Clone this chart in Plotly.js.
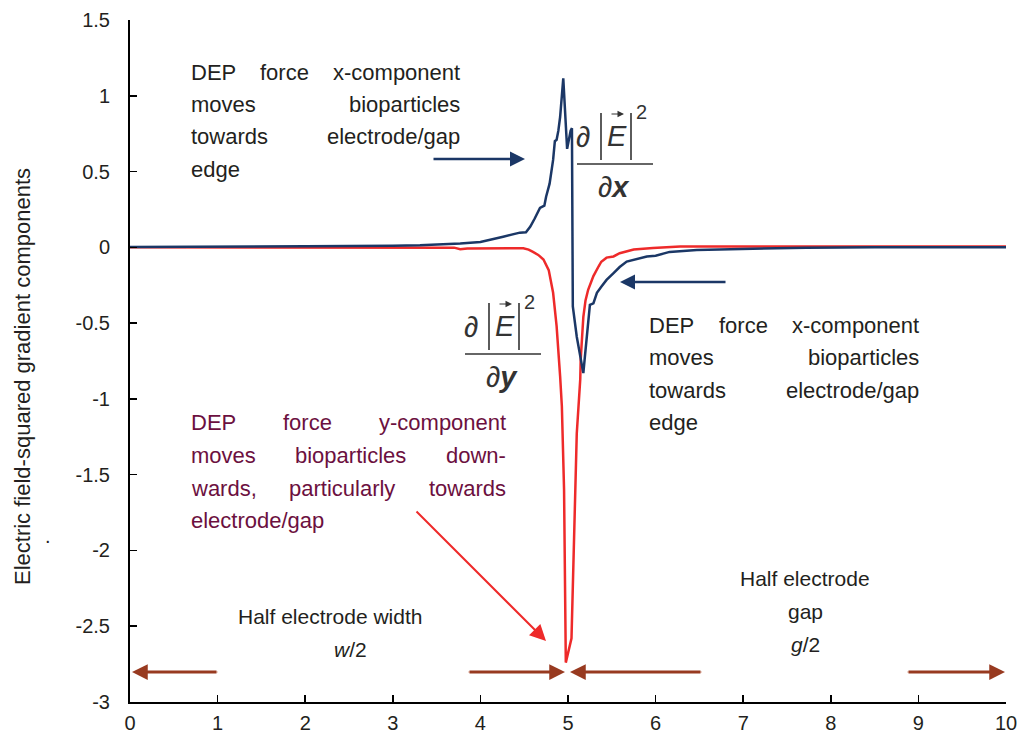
<!DOCTYPE html>
<html><head><meta charset="utf-8">
<script src="https://cdn.plot.ly/plotly-3.0.1.min.js"></script>
<style>body{margin:0;background:#fff}#chart{width:1019px;height:733px}</style>
</head><body><div id="chart"></div>
<script>
// ---- data ----
const xGradX = [0,0.74,0.76,2.0,3.0,3.31,3.77,4.0,4.26,4.35,4.45,4.52,4.57,4.62,4.68,4.73,4.75,4.79,4.83,4.85,4.87,4.89,4.91,4.946,4.97,4.99,5.01,5.03,5.045,5.05,5.055,5.10,5.145,5.175,5.19,5.23,5.25,5.29,5.33,5.38,5.44,5.52,5.59,5.67,5.82,5.90,6.0,6.16,6.47,6.85,7.3,7.72,8.5,10];
const yGradX = [0.003,0.003,0.006,0.007,0.01,0.013,0.025,0.035,0.07,0.085,0.097,0.10,0.137,0.19,0.26,0.275,0.334,0.42,0.577,0.70,0.71,0.77,0.86,1.115,0.80,0.65,0.71,0.77,0.786,0.14,-0.39,-0.59,-0.73,-0.83,-0.74,-0.46,-0.38,-0.37,-0.30,-0.26,-0.215,-0.17,-0.13,-0.094,-0.075,-0.06,-0.055,-0.03,-0.018,-0.013,-0.008,-0.002,0,0];
const xGradY = [0,3.7,3.77,3.85,4.49,4.55,4.6,4.66,4.72,4.78,4.83,4.87,4.91,4.93,4.955,4.967,4.972,4.975,5.04,5.10,5.14,5.145,5.175,5.2,5.23,5.29,5.35,5.38,5.44,5.52,5.59,5.75,5.97,6.28,10];
const yGradY = [0,-0.002,-0.013,-0.007,-0.006,-0.015,-0.03,-0.05,-0.08,-0.15,-0.3,-0.52,-0.85,-1.05,-1.6,-2.3,-2.6,-2.74,-2.58,-1.23,-0.87,-0.74,-0.46,-0.35,-0.28,-0.19,-0.125,-0.095,-0.068,-0.06,-0.039,-0.015,-0.004,0.005,0.005];
const xTicks = [0,1,2,3,4,5,6,7,8,9,10];
const yTicks = [-3,-2.5,-2,-1.5,-1,-0.5,0,0.5,1,1.5];
const yTickLabels = ['-3','-2.5','-2','-1.5','-1','-0.5','0','0.5','1','1.5'];
const yTitle = 'Electric field-squared gradient components';
const noteTopLeft = [['DEP','force','x-component'],['moves','bioparticles'],['towards','electrode/gap'],['edge']];
const noteRight = [['DEP','force','x-component'],['moves','bioparticles'],['towards','electrode/gap'],['edge']];
const noteY = [['DEP','force','y-component'],['moves','bioparticles','down-'],['wards,','particularly','towards'],['electrode/gap']];
const halfWidthLabel = ['Half electrode width','<i>w</i>/2'];
const halfGapLabel = ['Half electrode','gap','<i>g</i>/2'];

// ---- layout helpers ----
const W=1019,H=733,ML=130,MR=13,MT=20,MB=31;
const PW=W-ML-MR, PH=H-MT-MB;
const px = x => (x-ML)/PW;
const py = y => (H-MB-y)/PH;
const FONT = 'Liberation Sans, Arial, Helvetica, sans-serif';
const NAVY = '#1b3766', RED = '#ee2a2a', BROWN = '#983a20', MAROON = '#6c1040', TXT = '#231f20';

const ann = [];
const shapes = [];
const ctx = document.createElement('canvas').getContext('2d');
function tw(s,size){ ctx.font = size+'px "Liberation Sans"'; return ctx.measureText(s).width; }
function text(t,x,y,opts){ ann.push(Object.assign({text:t,xref:'paper',yref:'paper',x:px(x),y:py(y),showarrow:false,xanchor:'center',yanchor:'middle',font:{family:FONT,size:20,color:TXT},borderpad:0},opts||{})); }
function justify(lines,left,right,y0,gap,size,color){
  lines.forEach((words,i)=>{
    const y = y0+i*gap;
    if(words.length===1 || i===lines.length-1){
      text(words.join(' '),left,y,{xanchor:'left',font:{family:FONT,size:size,color:color}});
      return;
    }
    const ws = words.map(w=>tw(w,size));
    const g = (right-left-ws.reduce((a,b)=>a+b,0))/(words.length-1);
    let x = left;
    words.forEach((w,j)=>{ text(w,x,y,{xanchor:'left',font:{family:FONT,size:size,color:color}}); x += ws[j]+g; });
  });
}
function arrow(tipX,tipY,tailX,tailY,color,width,size){
  ann.push({text:'',xref:'paper',yref:'paper',x:px(tipX),y:py(tipY),ax:tailX-tipX,ay:tailY-tipY,showarrow:true,arrowhead:2,arrowwidth:width,arrowsize:size,arrowcolor:color,standoff:0});
}
function line(x0,y0,x1,y1,color,width){
  shapes.push({type:'line',xref:'paper',yref:'paper',x0:px(x0),y0:py(y0),x1:px(x1),y1:py(y1),line:{color:color,width:width}});
}
function fracLabel(cx,top,varName){
  const ink = '#333333';
  text('∂',cx-33,top+24,{font:{family:FONT,size:29,color:ink}});
  line(cx-15,top,cx-15,top+47,ink,1.6);
  line(cx+15,top,cx+15,top+47,ink,1.6);
  text('<i>E</i>',cx+1,top+23,{font:{family:FONT,size:29,color:ink}});
  arrow(cx+8,top+1,cx-6,top+1,ink,1,1.3);
  text('2',cx+25,top-1,{font:{family:FONT,size:20,color:ink}});
  line(cx-39,top+51,cx+37,top+51,ink,1.5);
  text('∂<b><i>'+varName+'</i></b>',cx-2,top+74,{font:{family:FONT,size:29,color:ink}});
}

// annotation text blocks
justify(noteTopLeft,190,459,72,32.5,22,TXT);
justify(noteRight,648,918,325,32.5,22,TXT);
justify(noteY,190,505,423,32.5,22,MAROON);
text(halfWidthLabel[0],330,616,{font:{family:FONT,size:21,color:TXT}});
text(halfWidthLabel[1],350,649,{font:{family:FONT,size:21,color:TXT}});
halfGapLabel.forEach((t,i)=>text(t,805,578+i*33,{font:{family:FONT,size:21,color:TXT}}));
text('.',48,536,{font:{family:FONT,size:20,color:TXT}});
text(yTitle,22,377,{textangle:-90,font:{family:FONT,size:22,color:TXT}});

// math labels
fracLabel(616,113,'x');
fracLabel(504,303,'y');

// arrows
arrow(525,159,432,159,NAVY,2.5,1.2);
arrow(620,282,727,282,NAVY,2.5,1.2);
arrow(546,641,415,510,RED,2,1.6);
arrow(132,672,218,672,BROWN,3,1.05);
arrow(565,672,468,672,BROWN,3,1.05);
arrow(570,672,702,672,BROWN,3,1.05);
arrow(1005,672,907,672,BROWN,3,1.05);
[[146,218],[468,551],[584,702],[907,991]].forEach(s=>line(s[0],672,s[1],672,'#d9a08c',0.8));

const traces = [
  {x:xGradY,y:yGradY,type:'scatter',mode:'lines',line:{color:RED,width:2.5},name:'dE2/dy',hoverinfo:'x+y'},
  {x:xGradX,y:yGradX,type:'scatter',mode:'lines',line:{color:NAVY,width:2.5},name:'dE2/dx',hoverinfo:'x+y'}
];
const axisCommon = {showgrid:false,zeroline:false,showline:true,linecolor:'#000',linewidth:2,ticks:'inside',ticklen:7,tickwidth:1.5,tickcolor:'#000',tickfont:{family:FONT,size:20,color:TXT}};
const layout = {
  width:W,height:H,margin:{l:ML,r:MR,t:MT,b:MB},
  paper_bgcolor:'#fff',plot_bgcolor:'#fff',showlegend:false,
  xaxis:Object.assign({},axisCommon,{range:[0,10],tickvals:xTicks,ticktext:xTicks.map(String),ticklabelstandoff:2}),
  yaxis:Object.assign({},axisCommon,{range:[-3,1.5],tickvals:yTicks,ticktext:yTickLabels,ticklabelstandoff:14}),
  annotations:ann,shapes:shapes
};
Plotly.newPlot('chart',traces,layout,{displayModeBar:false,staticPlot:true});
</script></body></html>
